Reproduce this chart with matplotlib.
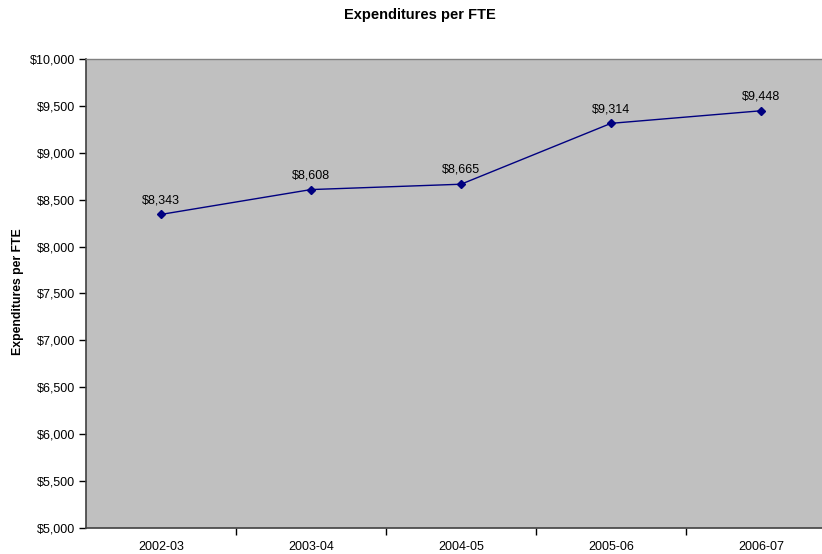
import matplotlib
matplotlib.use("Agg")
import matplotlib.pyplot as plt
from matplotlib.ticker import FuncFormatter, FixedLocator

plt.rcParams['font.family'] = ['Liberation Sans', 'DejaVu Sans']

years = ["2002-03", "2003-04", "2004-05", "2005-06", "2006-07"]
spending = [8343, 8608, 8665, 9314, 9448]
y_ticks = list(range(5000, 10001, 500))

fig = plt.figure(figsize=(8.22, 5.54), dpi=100)
# plot area runs past the right edge of the picture, as in the original
ax = fig.add_axes([86 / 822, 1 - 528 / 554, 750 / 822, (528 - 59) / 554])
ax.set_facecolor('#C0C0C0')

x = list(range(len(years)))
ax.plot(x, spending, color='#000080', linewidth=1.0, marker='D', markersize=4,
        markerfacecolor='#000080', markeredgecolor='#000080')

for xi, v in zip(x, spending):
    ax.annotate(f"${v:,}", (xi, v), xytext=(0, 6), textcoords='offset points',
                ha='center', va='bottom', fontsize=9, color='black')

ax.set_xlim(-0.5, len(years) - 0.5)
ax.set_ylim(5000, 10000)
ax.set_yticks(y_ticks)
ax.yaxis.set_major_formatter(FuncFormatter(lambda v, p: f"${int(v):,}"))
ax.set_xticks(x)
ax.set_xticklabels(years)
ax.xaxis.set_minor_locator(FixedLocator([i + 0.5 for i in range(len(years))]))
ax.tick_params(axis='x', which='major', length=0, pad=9, labelsize=9)
ax.tick_params(axis='x', which='minor', length=5, width=1, color='black', direction='out')
ax.tick_params(axis='y', length=5, width=1, color='black', direction='out', pad=3, labelsize=9)

for side in ['left', 'bottom']:
    ax.spines[side].set_color('#404040')
    ax.spines[side].set_linewidth(1.2)
ax.spines['top'].set_color('#808080')
ax.spines['top'].set_linewidth(1.0)
ax.spines['right'].set_visible(False)

fig.text(420 / 822, 1 - 15 / 554, "Expenditures per FTE", ha='center', va='center',
         fontsize=10.5, fontweight='bold')
fig.text(18 / 822, 1 - 292 / 554, "Expenditures per FTE", ha='center', va='center',
         rotation=90, fontsize=8.8, fontweight='bold')

fig.savefig("out.png", dpi=100)
